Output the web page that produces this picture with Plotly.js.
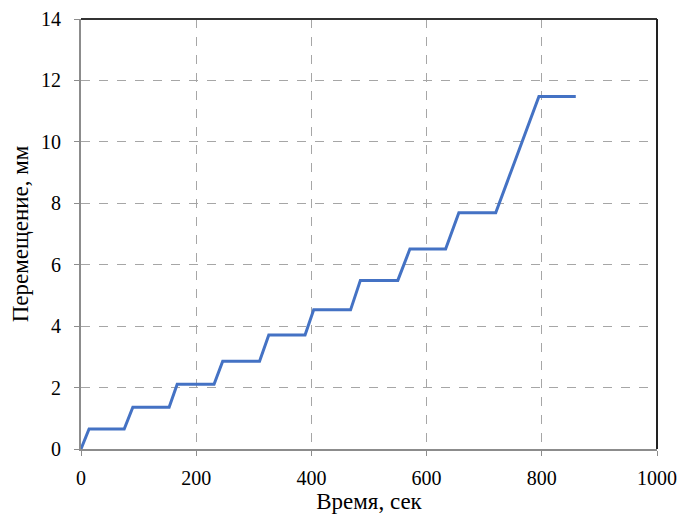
<!DOCTYPE html>
<html>
<head>
<meta charset="utf-8">
<script src="https://cdn.plot.ly/plotly-3.0.1.min.js"></script>
<style>html,body{margin:0;padding:0;background:#fff;}#chart{width:683px;height:521px;}</style>
</head>
<body>
<div id="chart"></div>
<script>
// Time, s
const timeSec = [0, 14, 75, 90, 153, 167, 231, 246, 310, 326, 389, 404, 468, 485, 550, 571, 633, 656, 720, 795, 859];
// Displacement, mm
const dispMm = [0, 0.65, 0.65, 1.36, 1.36, 2.11, 2.11, 2.86, 2.86, 3.71, 3.71, 4.53, 4.53, 5.49, 5.49, 6.51, 6.51, 7.69, 7.69, 11.48, 11.48];
const xTicks = [0, 200, 400, 600, 800, 1000];
const yTicks = [0, 2, 4, 6, 8, 10, 12, 14];

const fam = 'Liberation Serif, Times New Roman, serif';

const trace = {
  x: timeSec, y: dispMm, type: 'scatter', mode: 'lines',
  line: {color: '#4472C4', width: 3}, hoverinfo: 'skip'
};

const layout = {
  width: 683, height: 521,
  margin: {l: 81, r: 26, t: 19, b: 72},
  paper_bgcolor: '#fff', plot_bgcolor: '#fff',
  showlegend: false,
  font: {family: fam, color: '#000'},
  xaxis: {
    range: [0, 1000], tickvals: xTicks, ticktext: xTicks.map(String),
    showgrid: true, gridcolor: '#a6a6a6', griddash: 'dash', gridwidth: 1,
    showline: true, linecolor: '#8c8c8c', linewidth: 2,
    ticks: 'outside', ticklen: 5, tickcolor: '#8c8c8c', tickwidth: 1,
    ticklabelstandoff: 5,
    zeroline: false,
    tickfont: {family: fam, size: 20, color: '#000'},
    title: {text: 'Время, сек', font: {family: fam, size: 23, color: '#000'}, standoff: 4}
  },
  yaxis: {
    range: [0, 14], tickvals: yTicks, ticktext: yTicks.map(String),
    showgrid: true, gridcolor: '#a6a6a6', griddash: 'dash', gridwidth: 1,
    showline: true, linecolor: '#8c8c8c', linewidth: 2,
    ticks: 'outside', ticklen: 5, tickcolor: '#8c8c8c', tickwidth: 1,
    ticklabelstandoff: 9,
    zeroline: false,
    tickfont: {family: fam, size: 20, color: '#000'},
    title: {text: 'Перемещение, мм', font: {family: fam, size: 23, color: '#000'}, standoff: 6}
  },
  shapes: [
    {type: 'line', xref: 'paper', yref: 'paper', x0: 0, x1: 1, y0: 1, y1: 1, line: {color: '#333', width: 2}},
    {type: 'line', xref: 'paper', yref: 'paper', x0: 1, x1: 1, y0: 0, y1: 1, line: {color: '#222', width: 2}}
  ]
};

Plotly.newPlot('chart', [trace], layout, {displayModeBar: false, staticPlot: true});
</script>
</body>
</html>
